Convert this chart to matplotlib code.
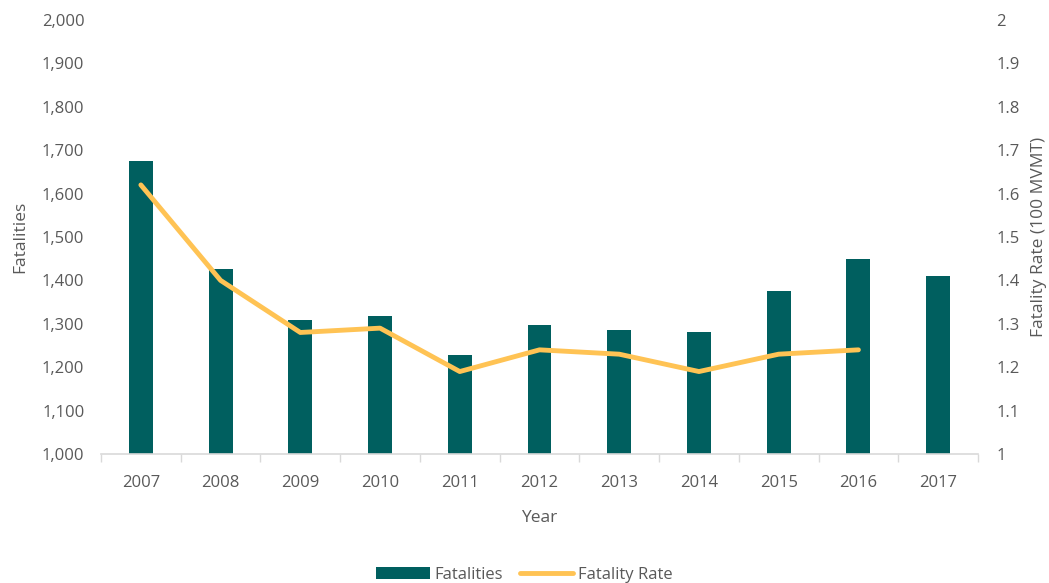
import matplotlib
matplotlib.use("Agg")
import matplotlib.pyplot as plt
from matplotlib.ticker import FuncFormatter, MultipleLocator
import numpy as np

years = ["2007", "2008", "2009", "2010", "2011", "2012", "2013", "2014", "2015", "2016", "2017"]
fatalities = [1675, 1426, 1309, 1319, 1228, 1297, 1286, 1281, 1376, 1449, 1410]
fatality_rate = [1.62, 1.40, 1.28, 1.29, 1.19, 1.24, 1.23, 1.19, 1.23, 1.24]

BAR = "#005F5F"
LINE = "#FFC354"
TXT = "#595959"

plt.rcParams["font.family"] = ["Open Sans", "DejaVu Sans"]

fig = plt.figure(figsize=(10.49, 5.83), dpi=100)
ax = fig.add_axes([101 / 1049, 129 / 583, 877 / 1049, 434 / 583])
ax2 = ax.twinx()

x = np.arange(len(years))
ax.bar(x, fatalities, width=0.3, color=BAR, label="Fatalities", zorder=2)
ax2.plot(x[:len(fatality_rate)], fatality_rate, color=LINE, lw=3.5,
         solid_capstyle="round", solid_joinstyle="round", label="Fatality Rate")

ax.set_xlim(-0.5, len(years) - 0.5)
ax.set_ylim(1000, 2000)
ax2.set_ylim(1, 2)
ax.yaxis.set_major_locator(MultipleLocator(100))
ax2.yaxis.set_major_locator(MultipleLocator(0.1))
ax.yaxis.set_major_formatter(FuncFormatter(lambda v, p: f"{v:,.0f}"))
ax2.yaxis.set_major_formatter(FuncFormatter(lambda v, p: f"{v:.1f}".rstrip("0").rstrip(".")))

ax.set_xticks(x)
ax.set_xticklabels(years)
ax.set_xticks(np.arange(-0.5, len(years)), minor=True)
ax.tick_params(axis="x", which="major", length=0, pad=15, labelsize=12, labelcolor=TXT)
ax.tick_params(axis="x", which="minor", length=6, color="#D9D9D9", width=1)
ax.tick_params(axis="y", length=0, pad=12, labelsize=12, labelcolor=TXT)
ax2.tick_params(axis="y", length=0, pad=13, labelsize=12, labelcolor=TXT)

for a in (ax, ax2):
    for side in ("top", "left", "right", "bottom"):
        a.spines[side].set_visible(False)
ax.spines["bottom"].set_visible(True)
ax.spines["bottom"].set_color("#D9D9D9")
ax.spines["bottom"].set_linewidth(1.2)

ax.set_xlabel("Year", fontsize=12.5, color=TXT, labelpad=14)
ax.set_ylabel("Fatalities", fontsize=12.5, color=TXT, labelpad=10)
ax2.set_ylabel("Fatality Rate (100 MVMT)", fontsize=12.5, color=TXT, labelpad=8)

h1, l1 = ax.get_legend_handles_labels()
h2, l2 = ax2.get_legend_handles_labels()
fig.legend(h1 + h2, l1 + l2, loc="lower center", bbox_to_anchor=(0.5, -0.025), ncol=2,
           frameon=False, fontsize=12, labelcolor=TXT, handlelength=3.2,
           handletextpad=0.3, columnspacing=1.0)

fig.savefig("out.png", dpi=100)
